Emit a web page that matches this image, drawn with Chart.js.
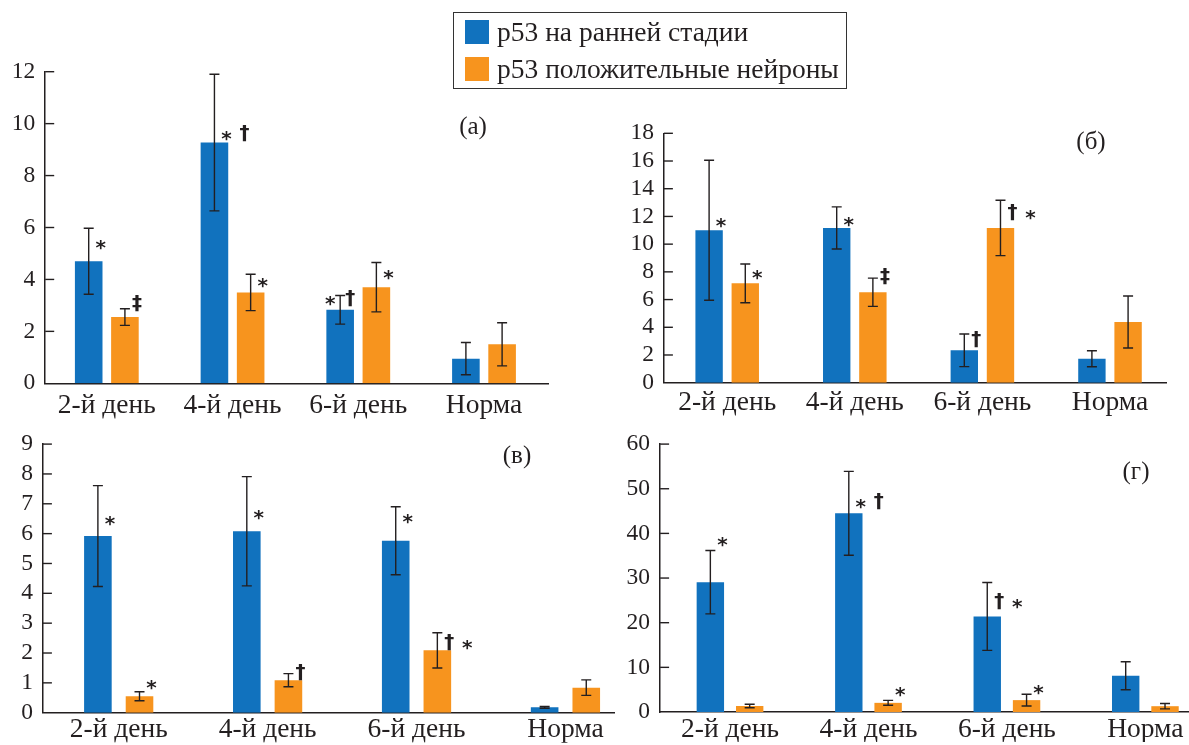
<!DOCTYPE html>
<html><head><meta charset="utf-8">
<script src="https://cdn.jsdelivr.net/npm/chart.js@4.4.0/dist/chart.umd.min.js"></script>
<style>
html,body{margin:0;padding:0;background:#fff;}
body{width:1189px;height:745px;position:relative;overflow:hidden;font-family:"Liberation Serif",serif;}
canvas{position:absolute;}
#legend{position:absolute;left:453px;top:12px;width:394px;height:77px;border:1.5px solid #333;box-sizing:border-box;z-index:5;background:transparent;}
.sw{position:absolute;left:11px;width:24px;height:24px;}
.lt{position:absolute;left:43px;font-size:27.5px;line-height:30px;white-space:nowrap;color:#231f20;}
</style></head><body>
<div id="legend"></div>
<canvas id="ca"></canvas>
<canvas id="cb"></canvas>
<canvas id="cc"></canvas>
<canvas id="cd"></canvas>
<script>
// ---------- data ----------
const categories = ['2-й день', '4-й день', '6-й день', 'Норма'];
const seriesNames = ['p53 на ранней стадии', 'p53 положительные нейроны'];
const seriesColors = ['#1172BE', '#F7941E'];

// panel (а)
const aYTicks = [0, 2, 4, 6, 8, 10, 12];
const aEarly = [4.70, 9.27, 2.83, 0.95];
const aEarlyErr = [1.27, 2.63, 0.55, 0.62];
const aPos = [2.55, 3.50, 3.70, 1.50];
const aPosErr = [0.32, 0.70, 0.95, 0.83];
const aEarlyMarks = ['*', '*†', '*|†', ''];
const aPosMarks = ['‡', '*', '*', ''];
const aEarlyMarkY = [5.45, 9.65, 3.30, null];
const aPosMarkY = [3.10, 3.98, 4.30, null];

// panel (б)
const bYTicks = [0, 2, 4, 6, 8, 10, 12, 14, 16, 18];
const bEarly = [11.0, 11.17, 2.34, 1.73];
const bEarlyErr = [5.05, 1.52, 1.18, 0.58];
const bPos = [7.17, 6.53, 11.17, 4.38];
const bPosErr = [1.40, 1.02, 2.00, 1.88];
const bEarlyMarks = ['*', '*', '†', ''];
const bPosMarks = ['*', '‡', '†*', ''];
const bEarlyMarkY = [11.75, 11.82, 3.15, null];
const bPosMarkY = [8.01, 7.70, 12.3, null];

// panel (в)
const cYTicks = [0, 1, 2, 3, 4, 5, 6, 7, 8, 9];
const cEarly = [5.92, 6.08, 5.76, 0.18];
const cEarlyErr = [1.69, 1.83, 1.14, 0.03];
const cPos = [0.55, 1.09, 2.09, 0.84];
const cPosErr = [0.15, 0.22, 0.59, 0.26];
const cEarlyMarks = ['*', '*', '*', ''];
const cPosMarks = ['*', '†', '†*', ''];
const cEarlyMarkY = [6.51, 6.73, 6.59, null];
const cPosMarkY = [1.03, 1.36, 2.36, null];

// panel (г)
const dYTicks = [0, 10, 20, 30, 40, 50, 60];
const dEarly = [29.07, 44.5, 21.4, 8.12];
const dEarlyErr = [7.1, 9.4, 7.6, 3.15];
const dPos = [1.35, 2.05, 2.66, 1.30];
const dPosErr = [0.40, 0.55, 1.30, 0.60];
const dEarlyMarks = ['*', '*†', '†*', ''];
const dPosMarks = ['', '*', '*', ''];
const dEarlyMarkY = [38.8, 47.3, 24.8, null];
const dPosMarkY = [null, 5.24, 5.6, null];

// ---------- layout ----------
const panels = [
  {id:'ca', tag:'(а)', yTicks:aYTicks, early:aEarly, earlyErr:aEarlyErr, pos:aPos, posErr:aPosErr,
   earlyMarks:aEarlyMarks, posMarks:aPosMarks, earlyMarkY:aEarlyMarkY, posMarkY:aPosMarkY,
   box:{x:0,y:40,w:600,h:385}, area:{L:45.2,R:548,T:71.7,B:383.3}, xr:[-0.49,3.509], cat:0.576, bar:0.762, tagPos:[473,127], xh:40, xpad:6},
  {id:'cb', tag:'(б)', yTicks:bYTicks, early:bEarly, earlyErr:bEarlyErr, pos:bPos, posErr:bPosErr,
   earlyMarks:bEarlyMarks, posMarks:bPosMarks, earlyMarkY:bEarlyMarkY, posMarkY:bPosMarkY,
   box:{x:600,y:40,w:589,h:385}, area:{L:663.9,R:1166.4,T:133.3,B:382.7}, xr:[-0.496,3.442], cat:0.567, bar:0.757, tagPos:[1091,142], xh:40, xpad:4},
  {id:'cc', tag:'(в)', yTicks:cYTicks, early:cEarly, earlyErr:cEarlyErr, pos:cPos, posErr:cPosErr,
   earlyMarks:cEarlyMarks, posMarks:cPosMarks, earlyMarkY:cEarlyMarkY, posMarkY:cPosMarkY,
   box:{x:0,y:420,w:640,h:325}, area:{L:42.9,R:614,T:441.7,B:712.7}, xr:[-0.509,3.326], cat:0.559, bar:0.663, tagPos:[517,456], xh:30, xpad:1},
  {id:'cd', tag:'(г)', yTicks:dYTicks, early:dEarly, earlyErr:dEarlyErr, pos:dPos, posErr:dPosErr,
   earlyMarks:dEarlyMarks, posMarks:dPosMarks, earlyMarkY:dEarlyMarkY, posMarkY:dPosMarkY,
   box:{x:600,y:420,w:589,h:325}, area:{L:660.1,R:1188,T:441,B:712}, xr:[-0.505,3.308], cat:0.568, bar:0.697, tagPos:[1136,472], xh:30, xpad:1}
];

const INK = '#231f20';

// legend
const lg = document.getElementById('legend');
seriesNames.forEach((n, k) => {
  const sw = document.createElement('div');
  sw.className = 'sw'; sw.style.top = (6.5 + 37 * k) + 'px'; sw.style.background = seriesColors[k];
  const t = document.createElement('div');
  t.className = 'lt'; t.style.top = (3.5 + 37 * k) + 'px'; t.textContent = n;
  lg.appendChild(sw); lg.appendChild(t);
});

function glyphOffset(g, size) {
  return g === '*' ? 0.6 * size : 0.30 * size;
}

function decor(p) {
  return {
    id: 'decor_' + p.id,
    afterDatasetsDraw(chart) {
      const ctx = chart.ctx, ys = chart.scales.y, area = chart.chartArea;
      ctx.save();
      ctx.strokeStyle = INK; ctx.lineWidth = 1.4;
      // inward y ticks
      ys.ticks.forEach(t => {
        if (t.value === 0) return;
        const y = ys.getPixelForValue(t.value);
        ctx.beginPath(); ctx.moveTo(area.left, y); ctx.lineTo(area.left + 9, y); ctx.stroke();
      });
      // error bars
      chart.data.datasets.forEach((ds, d) => {
        const meta = chart.getDatasetMeta(d);
        meta.data.forEach((el, i) => {
          const v = ds.data[i].y, e = ds.err[i];
          const yt = ys.getPixelForValue(v + e), yb = ys.getPixelForValue(v - e);
          ctx.lineWidth = 1.4;
          ctx.beginPath();
          ctx.moveTo(el.x, yt); ctx.lineTo(el.x, yb);
          ctx.moveTo(el.x - 5, yt); ctx.lineTo(el.x + 5, yt);
          ctx.moveTo(el.x - 5, yb); ctx.lineTo(el.x + 5, yb);
          ctx.stroke();
        });
      });
      // significance marks
      const fs = 20;
      ctx.font = 'bold ' + fs + 'px "DejaVu Sans"';
      ctx.fillStyle = INK; ctx.textAlign = 'center'; ctx.textBaseline = 'alphabetic';
      chart.data.datasets.forEach((ds, d) => {
        const meta = chart.getDatasetMeta(d);
        meta.data.forEach((el, i) => {
          const s = ds.marks[i];
          if (!s || ds.markY[i] == null) return;
          const y = ys.getPixelForValue(ds.markY[i]);
          if (s.includes('|')) {
            const [l, r] = s.split('|');
            ctx.fillText(l, el.x - 10, y + glyphOffset(l, fs));
            ctx.fillText(r, el.x + 10, y + glyphOffset(r, fs));
          } else {
            [...s].forEach((g, k) => ctx.fillText(g, el.x + 12 + 18 * k, y + glyphOffset(g, fs)));
          }
        });
      });
      // panel tag
      ctx.font = '25px "Liberation Serif"';
      ctx.textBaseline = 'middle';
      ctx.fillText(p.tag, p.tagPos[0] - p.box.x, p.tagPos[1] - p.box.y);
      ctx.restore();
    }
  };
}

function makeChart(p) {
  const cv = document.getElementById(p.id);
  cv.width = p.box.w; cv.height = p.box.h;
  cv.style.left = p.box.x + 'px'; cv.style.top = p.box.y + 'px';
  cv.style.width = p.box.w + 'px'; cv.style.height = p.box.h + 'px';
  const yW = p.area.L - p.box.x;
  const padTop = p.area.T - p.box.y;
  const padRight = p.box.x + p.box.w - p.area.R;
  const padBottom = p.box.y + p.box.h - p.area.B - p.xh;
  new Chart(cv, {
    type: 'bar',
    data: {
      datasets: [
        {label: seriesNames[0], data: p.early.map((v, i) => ({x: i, y: v})), backgroundColor: seriesColors[0],
         err: p.earlyErr, marks: p.earlyMarks, markY: p.earlyMarkY},
        {label: seriesNames[1], data: p.pos.map((v, i) => ({x: i, y: v})), backgroundColor: seriesColors[1],
         err: p.posErr, marks: p.posMarks, markY: p.posMarkY}
      ]
    },
    options: {
      responsive: false, animation: false, devicePixelRatio: 1,
      categoryPercentage: p.cat, barPercentage: p.bar,
      layout: {padding: {left: 0, top: padTop, right: padRight, bottom: padBottom}},
      plugins: {legend: {display: false}, tooltip: {enabled: false}},
      scales: {
        x: {
          type: 'linear', min: p.xr[0], max: p.xr[1], offset: false,
          afterBuildTicks: s => { s.ticks = categories.map((c, i) => ({value: i})); },
          afterFit: s => { s.height = p.xh; },
          ticks: {callback: v => (categories[v] !== undefined ? categories[v] : ''),
                  font: {family: 'Liberation Serif', size: 27.5}, color: INK, padding: p.xpad,
                  maxRotation: 0, minRotation: 0, autoSkip: false},
          grid: {display: false, drawTicks: false},
          border: {display: true, color: INK, width: 1.5}
        },
        y: {
          min: 0, max: p.yTicks[p.yTicks.length - 1],
          afterBuildTicks: s => { s.ticks = p.yTicks.map(v => ({value: v})); },
          afterFit: s => { s.width = yW; },
          ticks: {font: {family: 'Liberation Serif', size: 23.5}, color: INK, padding: 10, autoSkip: false},
          grid: {display: false, drawTicks: false},
          border: {display: true, color: INK, width: 1.5}
        }
      }
    },
    plugins: [decor(p)]
  });
}

panels.forEach(makeChart);
</script>
</body></html>
